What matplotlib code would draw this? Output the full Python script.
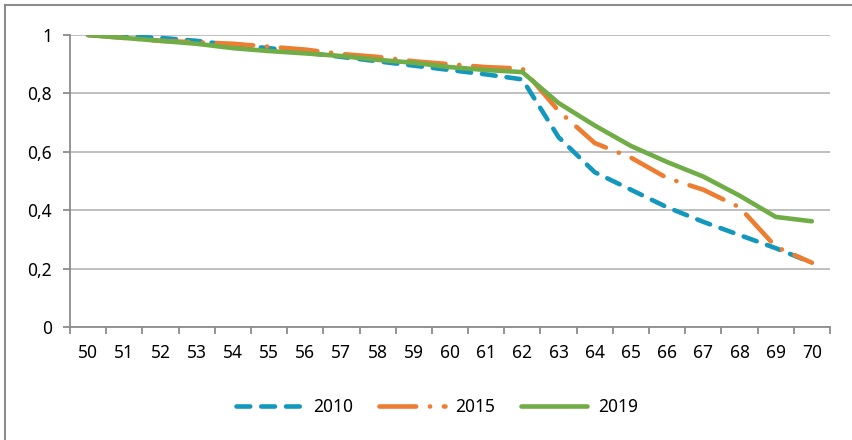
import matplotlib.pyplot as plt
from matplotlib.lines import Line2D
from matplotlib.ticker import FixedLocator, FuncFormatter

plt.rcParams['font.family'] = ['Noto Sans', 'DejaVu Sans']

ages = list(range(50, 71))
s2010 = [1.0, 0.995, 0.99, 0.98, 0.965, 0.955, 0.94, 0.925, 0.91, 0.895, 0.88, 0.865, 0.848,
         0.65, 0.53, 0.47, 0.41, 0.36, 0.315, 0.27, 0.22]
s2015 = [1.0, 0.99, 0.98, 0.975, 0.97, 0.96, 0.95, 0.935, 0.925, 0.91, 0.9, 0.89, 0.885,
         0.74, 0.63, 0.58, 0.51, 0.47, 0.41, 0.275, 0.22]
s2019 = [1.0, 0.99, 0.98, 0.97, 0.955, 0.945, 0.937, 0.928, 0.915, 0.905, 0.89, 0.88, 0.873,
         0.767, 0.69, 0.62, 0.565, 0.515, 0.45, 0.377, 0.362]
yticks = [0, 0.2, 0.4, 0.6, 0.8, 1]


def main():
    fig = plt.figure(figsize=(8.52, 4.40), dpi=100)
    ax = fig.add_axes([70 / 852, 113 / 440, 760 / 852, 292 / 440])

    x = range(len(ages))
    lw = 3.3
    ax.plot(x, s2010, color='#1397bd', lw=lw, linestyle=(0, (3, 2.4)),
            dash_capstyle='round', solid_capstyle='round', label='2010', zorder=3)
    ax.plot(x, s2015, color='#ed7d31', lw=lw, linestyle=(0, (8, 3, 0.05, 3)),
            dash_capstyle='round', solid_capstyle='round', label='2015', zorder=4)
    ax.plot(x, s2019, color='#70ad47', lw=lw, solid_capstyle='round',
            solid_joinstyle='round', label='2019', zorder=5)

    ax.set_xlim(-0.5, len(ages) - 0.5)
    ax.set_ylim(0, 1)
    ax.set_xticks(list(x))
    ax.set_xticklabels([str(a) for a in ages])
    ax.xaxis.set_minor_locator(FixedLocator([i - 0.5 for i in range(len(ages) + 1)]))
    ax.tick_params(axis='x', which='major', length=0, pad=12, labelsize=12.5)
    ax.tick_params(axis='x', which='minor', length=5, width=1.3, color='#8c8c8c', direction='out')
    ax.set_yticks(yticks)
    ax.yaxis.set_major_formatter(FuncFormatter(lambda v, p: f'{v:g}'.replace('.', ',')))
    ax.tick_params(axis='y', length=5, width=1.3, color='#8c8c8c', pad=8, labelsize=12.5)

    ax.grid(axis='y', color='#b4b4b4', lw=1.2)
    ax.set_axisbelow(True)
    for side in ['top', 'right']:
        ax.spines[side].set_visible(False)
    for side in ['left', 'bottom']:
        ax.spines[side].set_color('#8c8c8c')
        ax.spines[side].set_linewidth(1.3)

    fig.legend(loc='center', bbox_to_anchor=(0.513, 0.075), ncol=3, frameon=False,
               fontsize=12.5, handlelength=3.8, handletextpad=0.6, columnspacing=1.5)

    # outer chart frame, only its top and left edges fall inside the image
    fig.add_artist(Line2D([5 / 852, 5 / 852], [0, 1 - 5 / 440], transform=fig.transFigure,
                          color='#8c8c8c', lw=1.5))
    fig.add_artist(Line2D([5 / 852, 1], [1 - 5 / 440, 1 - 5 / 440], transform=fig.transFigure,
                          color='#8c8c8c', lw=1.5))

    fig.savefig('out.png', dpi=100)


if __name__ == '__main__':
    main()
